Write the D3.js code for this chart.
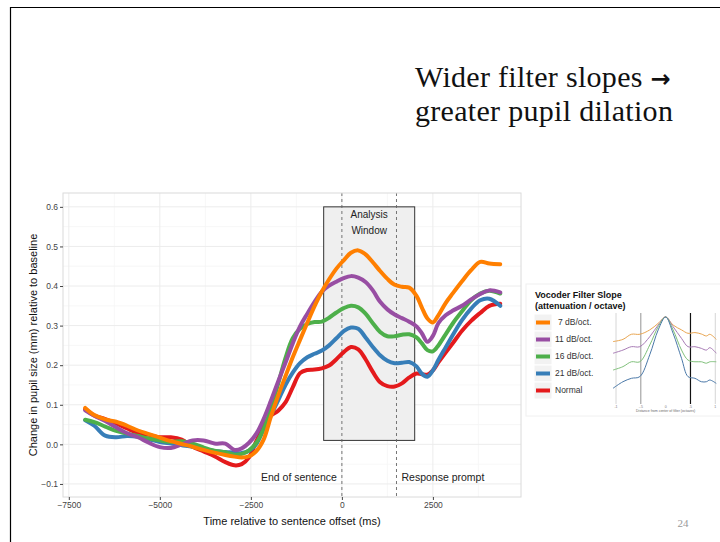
<!DOCTYPE html>
<html>
<head>
<meta charset="utf-8">
<script src="https://cdn.jsdelivr.net/npm/d3@7"></script>
<style>
  html, body { margin: 0; padding: 0; background: #fff; }
  svg { display: block; }
</style>
</head>
<body>
<svg id="slide" width="720" height="542"></svg>
<script>
// Time axis (ms relative to sentence offset), shared by all series
const timeMs = [-7050, -6800, -6500, -6200, -5900, -5600, -5300, -5000, -4700, -4400,
  -4100, -3800, -3500, -3200, -2950, -2750, -2550, -2350, -2150, -1950,
  -1750, -1550, -1350, -1150, -950, -750, -550, -350, -150, 50,
  250, 450, 650, 850, 1050, 1250, 1450, 1650, 1850, 2050,
  2200, 2350, 2500, 2650, 2850, 3050, 3300, 3550, 3800, 4050, 4350];

// Pupil size change (mm) per vocoder filter slope
const slope7 = [0.092, 0.074, 0.063, 0.057, 0.047, 0.035, 0.026, 0.017, 0.008, 0.001,
  -0.006, -0.014, -0.021, -0.027, -0.031, -0.033, -0.030, -0.017, 0.012, 0.070,
  0.123, 0.172, 0.220, 0.264, 0.307, 0.349, 0.386, 0.417, 0.444, 0.465,
  0.484, 0.490, 0.480, 0.460, 0.438, 0.418, 0.403, 0.398, 0.396, 0.375,
  0.345, 0.318, 0.308, 0.326, 0.357, 0.382, 0.412, 0.440, 0.461, 0.457, 0.455];
const slope11 = [0.086, 0.072, 0.059, 0.043, 0.028, 0.018, 0.004, -0.007, -0.009, 0.000,
  0.010, 0.010, 0.002, 0.002, -0.014, -0.010, 0.004, 0.027, 0.064, 0.110,
  0.159, 0.206, 0.255, 0.298, 0.330, 0.360, 0.386, 0.401, 0.411, 0.420,
  0.425, 0.421, 0.410, 0.389, 0.360, 0.341, 0.328, 0.319, 0.310, 0.298,
  0.280, 0.259, 0.274, 0.306, 0.326, 0.338, 0.350, 0.366, 0.380, 0.389, 0.384];
const slope16 = [0.062, 0.056, 0.045, 0.034, 0.027, 0.021, 0.015, 0.010, 0.006, 0.008,
  0.002, -0.008, -0.016, -0.020, -0.026, -0.024, -0.015, 0.004, 0.038, 0.090,
  0.153, 0.218, 0.268, 0.292, 0.304, 0.309, 0.310, 0.320, 0.333, 0.344,
  0.350, 0.346, 0.330, 0.306, 0.284, 0.273, 0.273, 0.277, 0.278, 0.270,
  0.255, 0.238, 0.235, 0.250, 0.278, 0.306, 0.336, 0.364, 0.381, 0.388, 0.381];
const slope21 = [0.061, 0.047, 0.022, 0.018, 0.021, 0.019, 0.013, 0.006, 0.002, -0.002,
  -0.006, -0.012, -0.017, -0.019, -0.021, -0.022, -0.016, 0.001, 0.039, 0.074,
  0.111, 0.150, 0.181, 0.205, 0.220, 0.229, 0.237, 0.250, 0.268, 0.286,
  0.295, 0.292, 0.270, 0.246, 0.225, 0.211, 0.205, 0.206, 0.208, 0.197,
  0.178, 0.171, 0.187, 0.213, 0.245, 0.277, 0.314, 0.343, 0.364, 0.368, 0.350];
const normal = [0.089, 0.073, 0.064, 0.053, 0.040, 0.029, 0.024, 0.018, 0.018, 0.012,
  -0.006, -0.018, -0.030, -0.045, -0.053, -0.050, -0.033, 0.008, 0.046, 0.072,
  0.085, 0.106, 0.144, 0.180, 0.188, 0.189, 0.192, 0.199, 0.215, 0.233,
  0.246, 0.240, 0.215, 0.183, 0.157, 0.147, 0.146, 0.154, 0.169, 0.179,
  0.177, 0.176, 0.187, 0.207, 0.232, 0.256, 0.287, 0.312, 0.332, 0.350, 0.355];

const seriesNames = ["7 dB/oct.", "11 dB/oct.", "16 dB/oct.", "21 dB/oct.", "Normal"];
const seriesValues = [slope7, slope11, slope16, slope21, normal];
const seriesColors = ["#FF7F00", "#984EA3", "#4DAF4A", "#377EB8", "#E41A1C"];

const xTicks = [-7500, -5000, -2500, 0, 2500];
const xMinor = [-6250, -3750, -1250, 1250, 3750];
const yTicks = [-0.1, 0.0, 0.1, 0.2, 0.3, 0.4, 0.5, 0.6];
const yMinor = [-0.05, 0.05, 0.15, 0.25, 0.35, 0.45, 0.55];

// Analysis window and event markers
const windowStart = -500, windowEnd = 2000, windowLow = 0.01, windowHigh = 0.6;
const sentenceEnd = 0, responsePrompt = 1500;

// Small filter-response inset: frequency re. centre vs attenuation (dB)
const insetFreq = [-1.06, -0.86, -0.69, -0.52, -0.32, -0.15, 0, 0.15, 0.32, 0.45, 0.59, 0.72, 0.82, 0.89, 1.02];
const inset7 = [-10.1, -9.2, -7.1, -7.1, -5.3, -2.6, 0, -3.3, -5.3, -6.7, -6.4, -7.0, -7.8, -7.1, -9.2];
const inset11 = [-14.9, -13.6, -12.2, -12.2, -8.1, -3.3, 0, -4.0, -8.8, -12.2, -12.2, -12.9, -13.6, -12.6, -14.9];
const inset16 = [-21.8, -20.4, -18.4, -18.4, -11.5, -4.0, 0, -5.3, -13.6, -17.7, -18.4, -18.4, -19.0, -18.4, -18.4];
const inset21 = [-29.3, -26.6, -25.2, -24.5, -15.5, -5.3, 0, -6.7, -17.0, -24.5, -25.2, -26.6, -26.6, -25.9, -27.3];
const insetColors = ["#E9A550", "#A77AB5", "#7FC07A", "#4A78A8"];
const insetMarks = [-1, -0.5, 0, 0.5, 1];
const insetMarkLabels = ["-1", "-.5", "0", ".5", "1"];

const svg = d3.select("#slide");
const sans = "'Liberation Sans', Arial, Helvetica, sans-serif";
const serif = "'Liberation Serif', 'Times New Roman', serif";

// Slide frame
svg.append("path")
  .attr("d", "M10.5,542 V7.5 H720")
  .attr("fill", "none").attr("stroke", "#000").attr("stroke-width", 1.2);

// Headline
const head = svg.append("text")
  .attr("font-family", serif).attr("font-size", 30).attr("letter-spacing", 0.3).attr("fill", "#111");
head.append("tspan").attr("x", 415).attr("y", 87).text("Wider filter slopes ");
head.append("tspan").attr("font-family", "'DejaVu Sans', sans-serif").attr("font-weight", "bold")
  .attr("font-size", 24).text("\u2192");
head.append("tspan").attr("x", 415).attr("y", 121).text("greater pupil dilation");

// Page number
svg.append("text").attr("x", 683).attr("y", 527)
  .attr("font-family", serif).attr("font-size", 11).attr("fill", "#999")
  .attr("text-anchor", "middle").text("24");

// Main panel
const panel = { left: 63, right: 521, top: 193, bottom: 497 };
const x = d3.scaleLinear().domain([-7660, 4920]).range([panel.left, panel.right]);
const y = d3.scaleLinear().domain([-0.133, 0.635]).range([panel.bottom, panel.top]);

const g = svg.append("g");
g.append("rect")
  .attr("x", panel.left).attr("y", panel.top)
  .attr("width", panel.right - panel.left).attr("height", panel.bottom - panel.top)
  .attr("fill", "#fff");

// grid
g.selectAll(".ymin").data(yMinor).join("line")
  .attr("x1", panel.left).attr("x2", panel.right)
  .attr("y1", d => y(d)).attr("y2", d => y(d))
  .attr("stroke", "#f5f5f5").attr("stroke-width", 0.8);
g.selectAll(".xmin").data(xMinor).join("line")
  .attr("y1", panel.top).attr("y2", panel.bottom)
  .attr("x1", d => x(d)).attr("x2", d => x(d))
  .attr("stroke", "#f5f5f5").attr("stroke-width", 0.8);
g.selectAll(".ymaj").data(yTicks).join("line")
  .attr("x1", panel.left).attr("x2", panel.right)
  .attr("y1", d => y(d)).attr("y2", d => y(d))
  .attr("stroke", "#ececec").attr("stroke-width", 1);
g.selectAll(".xmaj").data(xTicks).join("line")
  .attr("y1", panel.top).attr("y2", panel.bottom)
  .attr("x1", d => x(d)).attr("x2", d => x(d))
  .attr("stroke", "#ececec").attr("stroke-width", 1);

// analysis window
g.append("rect")
  .attr("x", x(windowStart)).attr("y", y(windowHigh))
  .attr("width", x(windowEnd) - x(windowStart)).attr("height", y(windowLow) - y(windowHigh))
  .attr("fill", "#efefef").attr("stroke", "#333").attr("stroke-width", 1);

// event markers
g.selectAll(".event").data([sentenceEnd, responsePrompt]).join("line")
  .attr("x1", d => x(d)).attr("x2", d => x(d))
  .attr("y1", panel.top).attr("y2", panel.bottom)
  .attr("stroke", "#666").attr("stroke-width", 0.9).attr("stroke-dasharray", "3,3");

// annotations
const ann = g.append("g").attr("font-family", sans).attr("fill", "#222");
ann.append("text").attr("x", x(750)).attr("y", y(0.578)).attr("font-size", 10)
  .attr("text-anchor", "middle").attr("dominant-baseline", "middle").text("Analysis");
ann.append("text").attr("x", x(750)).attr("y", y(0.538)).attr("font-size", 10)
  .attr("text-anchor", "middle").attr("dominant-baseline", "middle").text("Window");
ann.append("text").attr("x", x(sentenceEnd) - 5).attr("y", y(-0.086)).attr("font-size", 10.5)
  .attr("text-anchor", "end").attr("dominant-baseline", "middle").text("End of sentence");
ann.append("text").attr("x", x(responsePrompt) + 5).attr("y", y(-0.086)).attr("font-size", 10.5)
  .attr("text-anchor", "start").attr("dominant-baseline", "middle").text("Response prompt");

// series lines (Normal drawn first, 7 dB/oct. last)
const line = d3.line()
  .x((d, i) => x(timeMs[i]))
  .y(d => y(d))
  .curve(d3.curveCatmullRom.alpha(0.5));
const order = d3.range(seriesValues.length).reverse();
g.selectAll(".series").data(order).join("path")
  .attr("d", i => line(seriesValues[i]))
  .attr("fill", "none")
  .attr("stroke", i => seriesColors[i])
  .attr("stroke-width", 4)
  .attr("stroke-linejoin", "round").attr("stroke-linecap", "round");

// panel border
g.append("rect")
  .attr("x", panel.left).attr("y", panel.top)
  .attr("width", panel.right - panel.left).attr("height", panel.bottom - panel.top)
  .attr("fill", "none").attr("stroke", "#dadada").attr("stroke-width", 1);

// axes
const xAxis = d3.axisBottom(x).tickValues(xTicks).tickSize(3).tickPadding(2)
  .tickFormat(d3.format("d"));
const yAxis = d3.axisLeft(y).tickValues(yTicks).tickSize(3).tickPadding(2)
  .tickFormat(d3.format(".1f"));
const gx = svg.append("g").attr("transform", `translate(0,${panel.bottom})`).call(xAxis);
const gy = svg.append("g").attr("transform", `translate(${panel.left},0)`).call(yAxis);
[gx, gy].forEach(a => {
  a.select(".domain").remove();
  a.selectAll(".tick line").attr("stroke", "#444");
  a.selectAll(".tick text").attr("fill", "#444").attr("font-size", 8.5).attr("font-family", sans);
});

svg.append("text")
  .attr("x", (panel.left + panel.right) / 2).attr("y", 525)
  .attr("text-anchor", "middle").attr("font-family", sans).attr("font-size", 11)
  .attr("fill", "#111").text("Time relative to sentence offset (ms)");
svg.append("text")
  .attr("transform", `translate(37,${(panel.top + panel.bottom) / 2}) rotate(-90)`)
  .attr("text-anchor", "middle").attr("font-family", sans).attr("font-size", 11)
  .attr("fill", "#111").text("Change in pupil size (mm) relative to baseline");

// Legend
const lg = svg.append("g").attr("font-family", sans);
lg.append("rect").attr("x", 526).attr("y", 284).attr("width", 200).attr("height", 132)
  .attr("fill", "none").attr("stroke", "#f0f0f0").attr("stroke-width", 1);
lg.append("text").attr("x", 535).attr("y", 298).attr("font-size", 9).attr("font-weight", "bold")
  .attr("fill", "#111").text("Vocoder Filter Slope");
lg.append("text").attr("x", 535).attr("y", 309).attr("font-size", 9).attr("font-weight", "bold")
  .attr("fill", "#111").text("(attenuation / octave)");
const rowY = d3.scaleBand().domain(seriesNames).range([314, 399]);
const rows = lg.selectAll(".row").data(seriesNames).join("g")
  .attr("transform", d => `translate(0,${rowY(d)})`);
rows.append("rect").attr("x", 534).attr("y", 0).attr("width", 18).attr("height", rowY.bandwidth())
  .attr("fill", "#f2f2f2").attr("stroke", "#fff").attr("stroke-width", 1);
rows.append("line").attr("x1", 536).attr("x2", 550)
  .attr("y1", rowY.bandwidth() / 2).attr("y2", rowY.bandwidth() / 2)
  .attr("stroke", (d, i) => seriesColors[i]).attr("stroke-width", 4);
rows.append("text").attr("x", (d, i) => i === 0 ? 558 : 555).attr("y", rowY.bandwidth() / 2)
  .attr("dominant-baseline", "middle").attr("font-size", 8.5).attr("fill", "#333").text(d => d);

// Filter-response inset
const ix = d3.scaleLinear().domain([-1, 1]).range([616, 715.3]);
const iy = d3.scaleLinear().domain([0, -30]).range([317, 390]);
const ig = svg.append("g");
ig.selectAll(".mark").data(insetMarks).join("line")
  .attr("x1", d => ix(d)).attr("x2", d => ix(d)).attr("y1", 313).attr("y2", 404)
  .attr("stroke", (d, i) => i === 1 ? "#777" : (i === 3 ? "#111" : (i === 2 ? "none" : "#ccc")))
  .attr("stroke-width", (d, i) => i === 3 ? 1.2 : 0.8);
ig.selectAll(".mlab").data(insetMarks).join("text")
  .attr("x", d => ix(d)).attr("y", 408).attr("text-anchor", "middle")
  .attr("font-family", sans).attr("font-size", 3.5).attr("fill", "#777")
  .text((d, i) => insetMarkLabels[i]);
ig.append("text").attr("x", ix(0)).attr("y", 412).attr("text-anchor", "middle")
  .attr("font-family", sans).attr("font-size", 3.5).attr("fill", "#666")
  .text("Distance from center of filter (octaves)");
const iline = d3.line().x((d, i) => ix(insetFreq[i])).y(d => iy(d)).curve(d3.curveCatmullRom.alpha(0.5));
ig.selectAll(".icurve").data([inset7, inset11, inset16, inset21]).join("path")
  .attr("d", d => iline(d)).attr("fill", "none")
  .attr("stroke", (d, i) => insetColors[i]).attr("stroke-width", 1);
</script>
</body>
</html>
